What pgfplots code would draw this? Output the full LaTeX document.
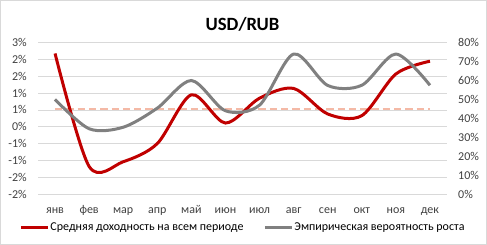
\documentclass[border=0pt]{standalone}
\usepackage{fontspec}
\setmainfont{Carlito}
\usepackage{pgfplots}
\pgfplotsset{compat=1.18}
\definecolor{cred}{HTML}{C00000}
\definecolor{cgray}{HTML}{808080}
\definecolor{cpink}{HTML}{F4B9A6}
\definecolor{cgrid}{HTML}{D9D9D9}
\definecolor{ctext}{HTML}{404040}
\begin{document}
\begin{tikzpicture}
\useasboundingbox (0,0) rectangle (487pt,245pt);
\draw[cgrid, line width=0.75pt] (0.4pt,0.4pt) rectangle (486.6pt,244.6pt);
\node[font=\fontsize{18.7}{20}\selectfont\bfseries, inner sep=0pt] at (242.5pt,221pt) {USD/RUB};
\begin{axis}[
  at={(38pt,51pt)}, anchor=south west,
  width=409pt, height=151.3pt, scale only axis,
  xmin=-0.5, xmax=11.5, ymin=-2, ymax=2.5,
  axis x line*=bottom, axis y line*=left,
  axis line style={draw=none},
  major tick length=0pt,
  xtick={0,...,11},
  xticklabels={янв,фев,мар,апр,май,июн,июл,авг,сен,окт,ноя,дек},
  ytick={-2,-1.5,-1,-0.5,0,0.5,1,1.5,2,2.5},
  yticklabels={-2\%,-2\%,-1\%,-1\%,0\%,1\%,1\%,2\%,2\%,3\%},
  ymajorgrids, grid style={cgrid, line width=0.75pt},
  yticklabel style={font=\fontsize{12}{14}\selectfont, color=ctext, anchor=east, inner sep=0pt, xshift=-11pt},
  xticklabel style={font=\fontsize{12}{14}\selectfont, color=ctext, anchor=north, inner sep=0pt, text height=8pt, text depth=3pt, yshift=-11.3pt},
]
% reference line: 45% of the right axis, i.e. 0.531% on the left axis
\addplot[cpink, line width=2pt, dash pattern=on 7.3pt off 4pt] coordinates {(0,0.531) (11,0.531)};
\addplot[cred, line width=3pt, smooth, tension=0.5] coordinates {
(0,2.18) (1,-1.18) (2,-1.04) (3,-0.50) (4,0.95) (5,0.11) (6,0.85) (7,1.14) (8,0.38) (9,0.33) (10,1.57) (11,1.95)};
\end{axis}
\begin{axis}[
  at={(38pt,51pt)}, anchor=south west,
  width=409pt, height=151.3pt, scale only axis,
  xmin=-0.5, xmax=11.5, ymin=0, ymax=80,
  axis x line=none, axis y line*=right,
  axis line style={draw=none},
  major tick length=0pt,
  ytick={0,10,...,80},
  yticklabels={0\%,10\%,20\%,30\%,40\%,50\%,60\%,70\%,80\%},
  yticklabel style={font=\fontsize{12}{14}\selectfont, color=ctext, anchor=west, inner sep=0pt, xshift=11pt},
  legend style={at={(0.5,0)}, anchor=north, yshift=-28pt, draw=none, fill=none,
    font=\fontsize{12}{14}\selectfont, text=black, inner sep=0pt,
    nodes={inner sep=1pt},
    /tikz/every even column/.append style={column sep=19pt}},
  legend columns=2, legend cell align=left,
  legend image code/.code={\draw[#1] (0pt,0pt) -- (27pt,0pt);},
]
\addlegendimage{cred, line width=3pt}
\addlegendentry{Средняя доходность на всем периоде}
\addplot[cgray, line width=3pt, smooth, tension=0.5] coordinates {
(0,50) (1,34.5) (2,35.3) (3,45.4) (4,60) (5,44) (6,47) (7,74) (8,57.4) (9,57.5) (10,74) (11,57.5)};
\addlegendentry{Эмпирическая вероятность роста}
\end{axis}
\end{tikzpicture}
\end{document}
